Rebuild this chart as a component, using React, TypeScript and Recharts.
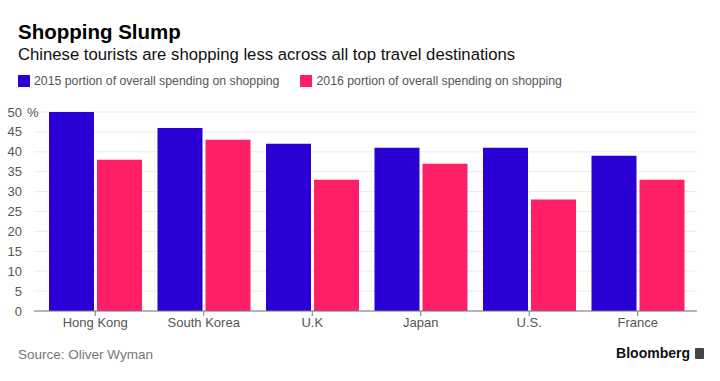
import React from "react";
import { BarChart, Bar, XAxis, YAxis, CartesianGrid } from "recharts";

const categories = ["Hong Kong", "South Korea", "U.K", "Japan", "U.S.", "France"];
const values2015 = [50, 46, 42, 41, 41, 39];
const values2016 = [38, 43, 33, 37, 28, 33];
const yTicks = [0, 5, 10, 15, 20, 25, 30, 35, 40, 45, 50];

const BLUE = "#2a00d4";
const PINK = "#ff1f66";
const FONT = "'Liberation Sans', Arial, sans-serif";

const data = categories.map((name, i) => ({
  name,
  y2015: values2015[i],
  y2016: values2016[i],
}));

const YTick = ({ x, y, payload }: any) => {
  const top = payload.value === 50;
  return (
    <g>
      <text x={x - 4} y={y} dy={4.5} textAnchor="end" fill="#555" fontSize={13} fontFamily={FONT}>
        {payload.value}
      </text>
      {top && (
        <text x={x + 1} y={y} dy={4.5} textAnchor="start" fill="#555" fontSize={13} fontFamily={FONT}>
          %
        </text>
      )}
    </g>
  );
};

export default function App() {
  return (
    <div
      style={{
        position: "absolute",
        left: 0,
        top: 0,
        width: 720,
        height: 381,
        background: "#fff",
        fontFamily: FONT,
        overflow: "hidden",
      }}
    >
      <div style={{ position: "absolute", left: 18, top: 20, fontSize: 20.5, fontWeight: "bold", color: "#000" }}>
        Shopping Slump
      </div>
      <div style={{ position: "absolute", left: 18, top: 45, fontSize: 16.7, color: "#111" }}>
        Chinese tourists are shopping less across all top travel destinations
      </div>
      <div style={{ position: "absolute", left: 18, top: 74, fontSize: 12.3, color: "#555", display: "flex", alignItems: "center" }}>
        <span style={{ width: 12, height: 12, background: BLUE, display: "inline-block", marginRight: 4 }} />
        <span>2015 portion of overall spending on shopping</span>
        <span style={{ width: 12, height: 12, background: PINK, display: "inline-block", marginLeft: 21, marginRight: 4 }} />
        <span>2016 portion of overall spending on shopping</span>
      </div>

      <div style={{ position: "absolute", left: 0, top: 0 }}>
        <BarChart
          width={720}
          height={381}
          data={data}
          margin={{ top: 112, right: 23, bottom: 40, left: 4 }}
          barSize={45}
          barGap={3}
        >
          <CartesianGrid vertical={false} stroke="#ececec" />
          <XAxis
            dataKey="name"
            padding={{ left: 7, right: 5 }}
            axisLine={{ stroke: "#777" }}
            tickLine={{ stroke: "#777" }}
            tickSize={5}
            tick={{ fill: "#555", fontSize: 13, fontFamily: FONT }}
            height={30}
          />
          <YAxis
            domain={[0, 50]}
            ticks={yTicks}
            axisLine={false}
            tickLine={false}
            width={30}
            tick={<YTick />}
            interval={0}
          />
          <Bar dataKey="y2015" fill={BLUE} isAnimationActive={false} />
          <Bar dataKey="y2016" fill={PINK} isAnimationActive={false} />
        </BarChart>
      </div>

      <div style={{ position: "absolute", left: 18, top: 347, fontSize: 13.5, color: "#777" }}>
        Source: Oliver Wyman
      </div>
      <div style={{ position: "absolute", right: 16, top: 345, fontSize: 14, fontWeight: "bold", color: "#111", display: "flex", alignItems: "center" }}>
        <span>Bloomberg</span>
        <span style={{ width: 9, height: 11, background: "#444", display: "inline-block", marginLeft: 5, borderRadius: 1 }} />
      </div>
    </div>
  );
}
